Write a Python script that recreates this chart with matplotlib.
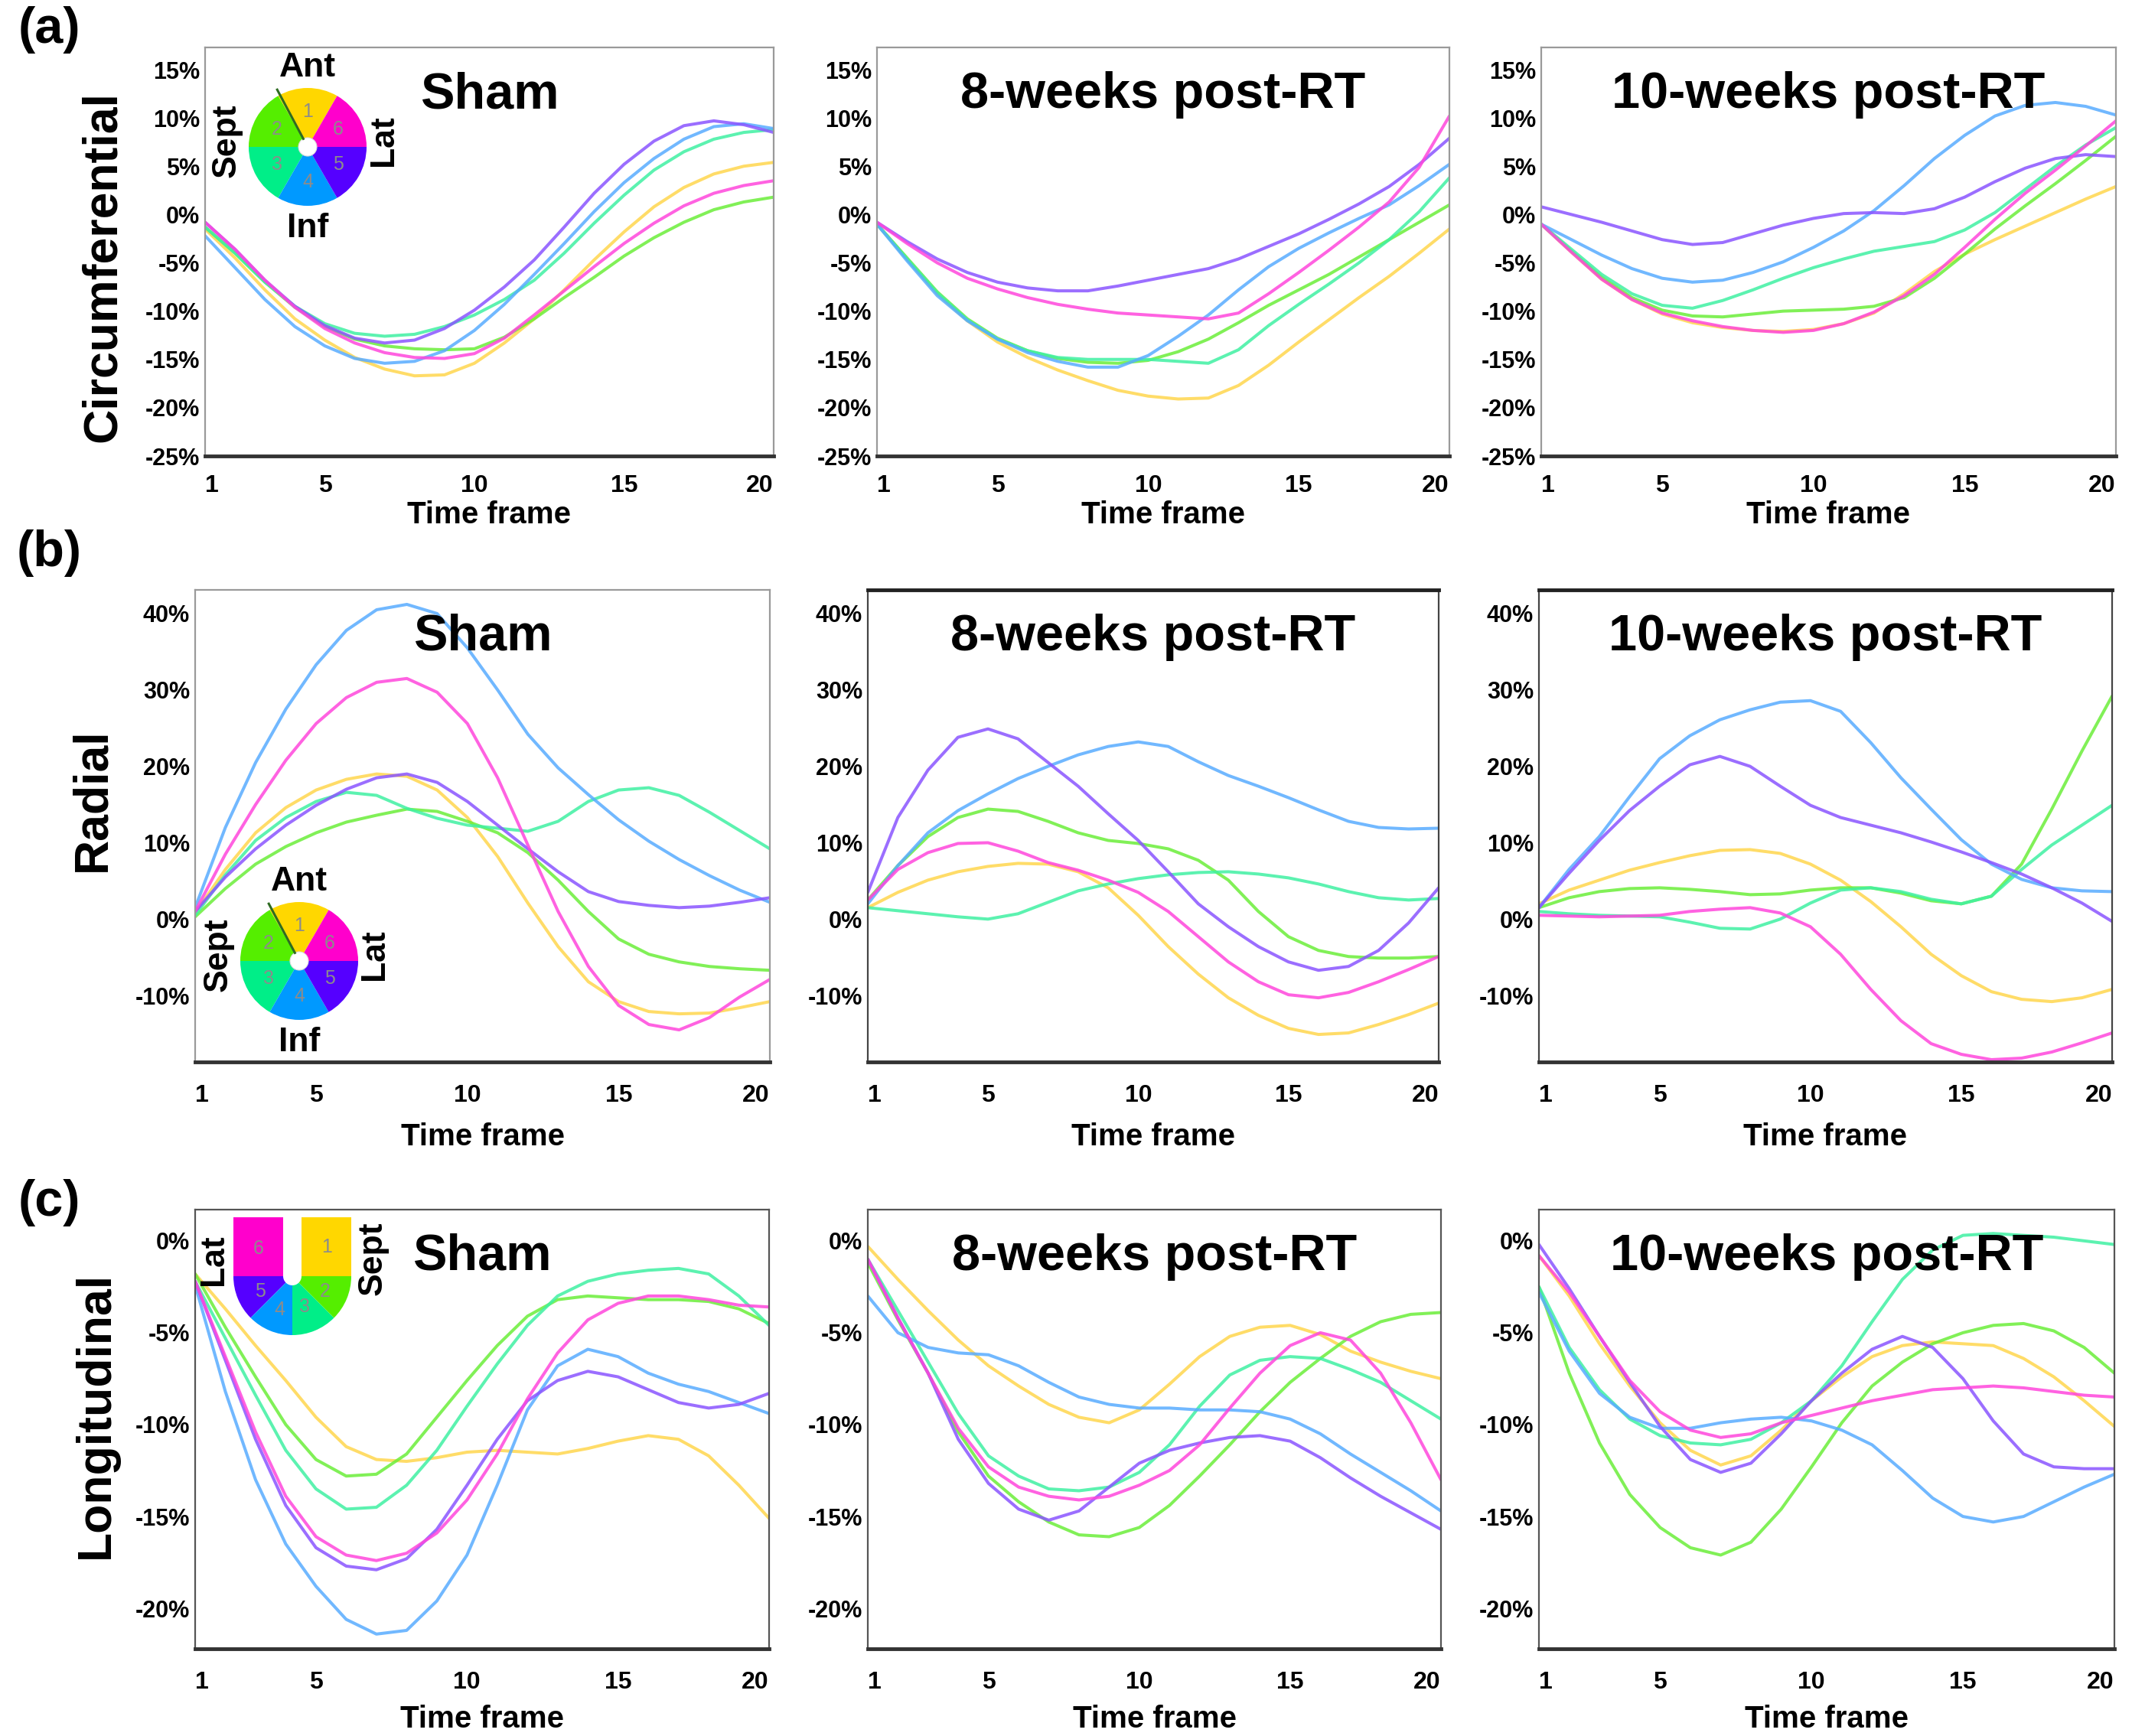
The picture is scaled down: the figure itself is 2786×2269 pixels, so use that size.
import numpy as np
import matplotlib
matplotlib.use("Agg")
import matplotlib.pyplot as plt
from matplotlib.patches import Wedge, Circle, Rectangle

plt.rcParams['font.family'] = ['Liberation Sans', 'DejaVu Sans']

# ---- data (strain %, per LV segment, time frames 1..20) ----
frames = list(range(1, 21))
segments = ['1', '2', '3', '4', '5', '6']
groups = ['Sham', '8-weeks post-RT', '10-weeks post-RT']
strain_names = ['Circumferential', 'Radial', 'Longitudinal']

circ_sham = {
    '1': [-1.5, -4.5, -7.8, -10.8, -13.0, -14.8, -16.0, -16.7, -16.6, -15.4, -13.3, -10.8, -7.8, -4.7, -1.8, 0.8, 2.8, 4.2, 5.0, 5.4],
    '2': [-1.3, -4.0, -7.0, -9.6, -11.6, -12.9, -13.6, -13.9, -14.0, -13.9, -12.7, -10.8, -8.6, -6.5, -4.3, -2.4, -0.8, 0.5, 1.3, 1.8],
    '3': [-1.3, -4.0, -7.0, -9.5, -11.3, -12.3, -12.6, -12.4, -11.6, -10.4, -8.8, -6.8, -4.0, -0.9, 2.0, 4.6, 6.5, 7.8, 8.5, 8.8],
    '4': [-2.2, -5.5, -8.8, -11.6, -13.6, -14.9, -15.4, -15.2, -14.1, -12.0, -9.3, -6.2, -3.0, 0.3, 3.3, 5.8, 7.8, 9.1, 9.4, 8.9],
    '5': [-0.8, -3.6, -6.8, -9.5, -11.5, -12.8, -13.3, -13.0, -11.8, -9.9, -7.5, -4.7, -1.3, 2.2, 5.2, 7.6, 9.2, 9.7, 9.3, 8.5],
    '6': [-0.8, -3.6, -6.8, -9.6, -11.8, -13.3, -14.3, -14.8, -14.9, -14.4, -12.8, -10.4, -7.9, -5.4, -3.0, -0.9, 0.9, 2.2, 3.0, 3.5],
}
circ_8wk = {
    '1': [-1.0, -4.6, -8.2, -11.0, -13.2, -14.8, -16.1, -17.2, -18.2, -18.8, -19.1, -19.0, -17.7, -15.6, -13.2, -10.9, -8.6, -6.4, -4.0, -1.5],
    '2': [-1.0, -4.5, -8.0, -10.8, -12.8, -14.1, -14.9, -15.3, -15.4, -15.1, -14.2, -12.9, -11.2, -9.4, -7.8, -6.2, -4.4, -2.6, -0.8, 1.0],
    '3': [-1.0, -4.6, -8.1, -10.9, -12.9, -14.1, -14.8, -15.0, -15.0, -15.0, -15.2, -15.4, -14.0, -11.5, -9.3, -7.2, -5.0, -2.6, 0.3, 3.8],
    '4': [-1.0, -4.8, -8.4, -11.0, -12.9, -14.3, -15.2, -15.8, -15.8, -14.6, -12.6, -10.4, -7.8, -5.4, -3.5, -1.9, -0.4, 1.0, 3.0, 5.2],
    '5': [-0.8, -2.8, -4.6, -6.0, -7.0, -7.6, -7.9, -7.9, -7.4, -6.8, -6.2, -5.6, -4.6, -3.3, -2.0, -0.5, 1.1, 2.9, 5.2, 7.9],
    '6': [-0.8, -3.0, -5.0, -6.6, -7.7, -8.6, -9.3, -9.8, -10.2, -10.4, -10.6, -10.8, -10.2, -8.2, -6.0, -3.7, -1.3, 1.3, 4.9, 10.2],
}
circ_10wk = {
    '1': [-1.0, -3.9, -6.7, -8.8, -10.3, -11.2, -11.7, -12.0, -12.1, -11.9, -11.3, -10.2, -8.2, -5.9, -4.1, -2.6, -1.2, 0.2, 1.6, 2.9],
    '2': [-1.0, -3.8, -6.5, -8.6, -9.9, -10.5, -10.6, -10.3, -10.0, -9.9, -9.8, -9.5, -8.6, -6.6, -4.1, -1.5, 0.9, 3.2, 5.6, 8.1],
    '3': [-1.0, -3.6, -6.2, -8.2, -9.4, -9.7, -8.9, -7.8, -6.6, -5.5, -4.6, -3.8, -3.3, -2.8, -1.6, 0.2, 2.6, 5.0, 7.2, 9.0],
    '4': [-1.0, -2.6, -4.2, -5.6, -6.6, -7.0, -6.8, -6.0, -4.9, -3.4, -1.7, 0.4, 3.0, 5.8, 8.2, 10.2, 11.3, 11.6, 11.2, 10.3],
    '5': [0.8, 0.0, -0.8, -1.7, -2.6, -3.1, -2.9, -2.0, -1.1, -0.4, 0.1, 0.2, 0.1, 0.6, 1.8, 3.4, 4.8, 5.8, 6.2, 6.0],
    '6': [-1.0, -3.9, -6.7, -8.8, -10.2, -11.0, -11.6, -12.0, -12.2, -12.0, -11.3, -10.1, -8.4, -6.2, -3.4, -0.5, 2.2, 4.6, 7.1, 9.7],
}

rad_sham = {
    '1': [0.8, 6.5, 11.3, 14.6, 16.9, 18.3, 19.0, 18.7, 16.9, 13.3, 8.2, 2.1, -3.6, -8.2, -10.8, -12.1, -12.4, -12.3, -11.6, -10.8],
    '2': [0.3, 4.0, 7.2, 9.5, 11.3, 12.7, 13.6, 14.4, 14.1, 12.8, 11.3, 8.7, 5.1, 1.0, -2.6, -4.6, -5.6, -6.2, -6.5, -6.7],
    '3': [0.5, 5.8, 10.3, 13.3, 15.4, 16.6, 16.2, 14.5, 13.2, 12.3, 11.9, 11.5, 12.8, 15.4, 16.9, 17.2, 16.2, 14.0, 11.6, 9.2],
    '4': [1.5, 12.0, 20.5, 27.5, 33.3, 37.8, 40.5, 41.2, 40.0, 35.5, 30.0, 24.2, 19.8, 16.3, 13.0, 10.2, 7.8, 5.7, 3.8, 2.2],
    '5': [1.0, 5.5, 9.2, 12.3, 14.9, 17.0, 18.5, 19.0, 17.9, 15.4, 12.3, 9.2, 6.2, 3.6, 2.3, 1.8, 1.5, 1.7, 2.2, 2.8],
    '6': [1.0, 8.5, 15.0, 20.8, 25.6, 29.0, 31.0, 31.5, 29.7, 25.6, 18.5, 9.7, 1.0, -6.2, -11.3, -13.8, -14.5, -12.9, -10.2, -7.9],
}
rad_8wk = {
    '1': [1.5, 3.5, 5.1, 6.2, 6.9, 7.3, 7.2, 6.2, 4.1, 0.5, -3.6, -7.2, -10.3, -12.6, -14.3, -15.1, -14.9, -13.8, -12.5, -11.0],
    '2': [2.5, 7.0, 10.8, 13.3, 14.4, 14.1, 12.8, 11.3, 10.3, 9.9, 9.2, 7.7, 5.1, 1.0, -2.3, -4.1, -4.9, -5.1, -5.1, -4.9],
    '3': [1.5, 1.1, 0.7, 0.3, 0.0, 0.7, 2.2, 3.7, 4.6, 5.3, 5.8, 6.1, 6.2, 5.9, 5.4, 4.6, 3.6, 2.8, 2.5, 2.7],
    '4': [2.0, 7.0, 11.3, 14.2, 16.4, 18.4, 20.0, 21.5, 22.6, 23.2, 22.6, 20.6, 18.8, 17.4, 15.9, 14.3, 12.8, 12.0, 11.8, 11.9],
    '5': [3.5, 13.3, 19.5, 23.8, 24.9, 23.6, 20.5, 17.4, 13.8, 10.3, 6.2, 2.0, -1.0, -3.6, -5.6, -6.7, -6.2, -4.1, -0.5, 4.1],
    '6': [2.5, 6.5, 8.7, 9.9, 10.0, 8.9, 7.4, 6.4, 5.1, 3.5, 1.0, -2.3, -5.6, -8.2, -9.9, -10.3, -9.6, -8.2, -6.6, -4.9],
}
rad_10wk = {
    '1': [2.0, 3.8, 5.1, 6.4, 7.4, 8.3, 9.0, 9.1, 8.6, 7.2, 5.1, 2.3, -1.0, -4.6, -7.4, -9.5, -10.5, -10.8, -10.3, -9.2],
    '2': [1.5, 2.8, 3.6, 4.0, 4.1, 3.9, 3.6, 3.2, 3.3, 3.8, 4.1, 4.1, 3.4, 2.4, 2.0, 3.0, 7.2, 14.4, 22.0, 29.2],
    '3': [1.0, 0.7, 0.5, 0.4, 0.3, -0.4, -1.2, -1.3, 0.0, 2.1, 3.8, 4.1, 3.6, 2.6, 2.0, 3.0, 6.5, 9.7, 12.3, 14.9],
    '4': [1.5, 6.5, 10.8, 16.0, 21.0, 24.0, 26.1, 27.4, 28.4, 28.6, 27.2, 23.1, 18.5, 14.4, 10.4, 7.2, 5.2, 4.1, 3.7, 3.6],
    '5': [1.5, 6.0, 10.3, 14.2, 17.4, 20.2, 21.3, 20.0, 17.4, 14.9, 13.3, 12.3, 11.3, 10.1, 8.8, 7.4, 5.9, 4.1, 2.1, -0.3],
    '6': [0.5, 0.4, 0.3, 0.4, 0.5, 1.0, 1.3, 1.5, 0.8, -1.0, -4.6, -9.2, -13.3, -16.3, -17.7, -18.4, -18.2, -17.4, -16.2, -14.9],
}

long_sham = {
    '1': [-1.8, -3.7, -5.7, -7.6, -9.6, -11.2, -11.9, -12.0, -11.8, -11.5, -11.4, -11.5, -11.6, -11.3, -10.9, -10.6, -10.8, -11.7, -13.3, -15.1],
    '2': [-1.8, -4.7, -7.4, -10.0, -11.9, -12.8, -12.7, -11.6, -9.6, -7.6, -5.7, -4.1, -3.2, -3.0, -3.1, -3.2, -3.2, -3.3, -3.7, -4.5],
    '3': [-2.2, -5.3, -8.4, -11.4, -13.5, -14.6, -14.5, -13.3, -11.4, -9.0, -6.7, -4.6, -3.0, -2.2, -1.8, -1.6, -1.5, -1.8, -3.0, -4.6],
    '4': [-2.4, -8.2, -13.0, -16.5, -18.8, -20.6, -21.4, -21.2, -19.6, -17.1, -13.3, -9.2, -6.8, -5.9, -6.3, -7.2, -7.8, -8.2, -8.8, -9.4],
    '5': [-2.2, -6.5, -10.8, -14.4, -16.7, -17.7, -17.9, -17.3, -15.7, -13.3, -10.8, -8.7, -7.6, -7.1, -7.4, -8.1, -8.8, -9.1, -8.9, -8.3],
    '6': [-2.2, -6.3, -10.4, -13.9, -16.1, -17.1, -17.4, -17.0, -15.9, -14.1, -11.6, -8.6, -6.1, -4.3, -3.4, -3.0, -3.0, -3.2, -3.5, -3.6],
}
long_8wk = {
    '1': [-0.3, -2.1, -3.8, -5.4, -6.8, -7.9, -8.9, -9.6, -9.9, -9.2, -7.8, -6.3, -5.2, -4.7, -4.6, -5.1, -6.0, -6.6, -7.1, -7.5],
    '2': [-1.2, -4.3, -7.2, -10.4, -12.8, -14.2, -15.3, -16.0, -16.1, -15.6, -14.4, -12.8, -11.1, -9.3, -7.7, -6.4, -5.2, -4.4, -4.0, -3.9],
    '3': [-1.0, -3.8, -6.6, -9.4, -11.7, -12.8, -13.5, -13.6, -13.4, -12.6, -11.1, -9.0, -7.3, -6.5, -6.3, -6.4, -7.0, -7.7, -8.7, -9.7],
    '4': [-3.0, -5.0, -5.8, -6.1, -6.2, -6.8, -7.7, -8.5, -8.9, -9.1, -9.1, -9.2, -9.2, -9.3, -9.7, -10.5, -11.6, -12.6, -13.6, -14.7],
    '5': [-1.0, -4.2, -7.2, -10.8, -13.2, -14.6, -15.2, -14.7, -13.4, -12.1, -11.4, -11.0, -10.7, -10.6, -10.9, -11.8, -12.9, -13.9, -14.8, -15.7],
    '6': [-1.0, -4.2, -7.2, -10.2, -12.3, -13.4, -13.9, -14.1, -13.9, -13.3, -12.5, -11.1, -9.1, -7.2, -5.7, -5.0, -5.4, -7.2, -9.9, -13.0],
}
long_10wk = {
    '1': [-0.8, -3.0, -5.6, -7.9, -9.9, -11.4, -12.2, -11.7, -10.3, -8.7, -7.4, -6.3, -5.7, -5.5, -5.6, -5.7, -6.4, -7.4, -8.7, -10.1],
    '2': [-2.5, -7.2, -11.0, -13.8, -15.6, -16.7, -17.1, -16.4, -14.6, -12.3, -9.9, -7.9, -6.6, -5.6, -5.0, -4.6, -4.5, -4.9, -5.8, -7.2],
    '3': [-2.5, -5.8, -8.1, -9.7, -10.6, -11.0, -11.1, -10.8, -9.9, -8.7, -6.8, -4.4, -2.1, -0.5, 0.3, 0.4, 0.3, 0.2, 0.0, -0.2],
    '4': [-2.8, -6.0, -8.3, -9.6, -10.2, -10.2, -9.9, -9.7, -9.6, -9.8, -10.3, -11.1, -12.5, -14.0, -15.0, -15.3, -15.0, -14.2, -13.4, -12.7],
    '5': [-0.2, -2.6, -5.2, -7.7, -10.1, -11.9, -12.6, -12.1, -10.5, -8.7, -7.2, -5.9, -5.2, -5.8, -7.5, -9.8, -11.6, -12.3, -12.4, -12.4],
    '6': [-0.8, -2.8, -5.2, -7.6, -9.3, -10.3, -10.7, -10.5, -9.9, -9.5, -9.1, -8.7, -8.4, -8.1, -8.0, -7.9, -8.0, -8.2, -8.4, -8.5],
}

circ_ticks = [-25, -20, -15, -10, -5, 0, 5, 10, 15]
rad_ticks = [-10, 0, 10, 20, 30, 40]
long_ticks = [-20, -15, -10, -5, 0]
x_ticks = [1, 5, 10, 15, 20]

line_colors = {'1': '#ffd64d', '2': '#6bee3a', '3': '#3ff0a2',
               '4': '#58acff', '5': '#8a55ff', '6': '#ff46dc'}
wheel_colors = {'1': '#ffd700', '2': '#55ee00', '3': '#00ee88',
                '4': '#0099ff', '5': '#5500ff', '6': '#ff00cc'}

# ---- layout (pixel boxes of each row of panels) ----
W, H = 2786, 2269
fig = plt.figure(figsize=(W / 100, H / 100), dpi=100)

rows = [
    dict(data=[circ_sham, circ_8wk, circ_10wk], ticks=circ_ticks, ylim=(-25, 17.3),
         xs=[(268, 1011), (1146, 1894), (2014, 2765)], ys=(62, 596),
         xpad=17, ylab=(-0.18, 0.464), xlab=-0.144),
    dict(data=[rad_sham, rad_8wk, rad_10wk], ticks=rad_ticks, ylim=(-18.7, 43.1),
         xs=[(255, 1006), (1134, 1880), (2011, 2760)], ys=(771, 1388),
         xpad=21, ylab=(-0.178, 0.556), xlab=-0.159),
    dict(data=[long_sham, long_8wk, long_10wk], ticks=long_ticks, ylim=(-22.2, 1.7),
         xs=[(255, 1005), (1134, 1883), (2011, 2763)], ys=(1581, 2155),
         xpad=21, ylab=(-0.173, 0.533), xlab=-0.160),
]

for r, row in enumerate(rows):
    y0, y1 = row['ys']
    for c, (x0, x1) in enumerate(row['xs']):
        ax = fig.add_axes([x0 / W, 1 - y1 / H, (x1 - x0) / W, (y1 - y0) / H])
        panel = row['data'][c]
        for seg in segments:
            ax.plot(frames, panel[seg], color=line_colors[seg], lw=2.9, alpha=0.85,
                    solid_joinstyle='round', solid_capstyle='round')
        ax.set_xlim(1, 20)
        ax.set_ylim(*row['ylim'])
        ax.set_xticks(x_ticks)
        xlabels = ax.set_xticklabels([str(t) for t in x_ticks], fontsize=23, fontweight='bold')
        xlabels[0].set_horizontalalignment('left')
        xlabels[-1].set_horizontalalignment('right')
        ax.set_yticks(row['ticks'])
        ax.set_yticklabels([f'{t}%' for t in row['ticks']], fontsize=22, fontweight='bold')
        ax.tick_params(axis='both', length=0)
        ax.tick_params(axis='x', pad=row['xpad'])
        ax.tick_params(axis='y', pad=5)
        for side in ['top', 'left', 'right']:
            ax.spines[side].set_color('#9a9a9a')
            ax.spines[side].set_linewidth(1.6)
        ax.spines['bottom'].set_color('#333333')
        ax.spines['bottom'].set_linewidth(3.5)
        if r == 1 and c > 0:
            ax.spines['top'].set_color('#222222')
            ax.spines['top'].set_linewidth(3.5)
            ax.spines['left'].set_color('#444444')
            ax.spines['right'].set_color('#444444')
        if r == 2:
            for side in ['top', 'left', 'right']:
                ax.spines[side].set_color('#555555')
        ax.text(0.5, 1 - 62 / (y1 - y0), groups[c], transform=ax.transAxes,
                ha='center', va='center', fontsize=48, fontweight='bold')
        ax.set_xlabel('Time frame', fontsize=29, fontweight='bold')
        ax.xaxis.set_label_coords(0.5, row['xlab'])
        ax.xaxis.label.set_verticalalignment('center')
        if c == 0:
            ax.set_ylabel(strain_names[r], fontsize=45, fontweight='bold')
            ax.yaxis.set_label_coords(*row['ylab'])
            ax.yaxis.label.set_verticalalignment('center')

# ---- overlay in pixel coordinates for the segment diagrams and panel letters ----
ov = fig.add_axes([0, 0, 1, 1], zorder=10)
ov.set_xlim(0, W)
ov.set_ylim(H, 0)
ov.axis('off')
ov.patch.set_alpha(0)


def wedge(cx, cy, R, a1, a2, color, width=None):
    # a1, a2 are screen angles (counter-clockwise, y up)
    ov.add_patch(Wedge((cx, cy), R, -a2, -a1, width=width, facecolor=color,
                       edgecolor='none'))


def draw_wheel(cx, cy, R=77, r=12):
    spans = {'1': (60, 120), '2': (120, 180), '3': (180, 240),
             '4': (240, 300), '5': (300, 360), '6': (0, 60)}
    for seg, (a1, a2) in spans.items():
        wedge(cx, cy, R, a1, a2, wheel_colors[seg])
        am = np.deg2rad((a1 + a2) / 2)
        ov.text(cx + 0.6 * R * np.cos(am), cy - 0.6 * R * np.sin(am), seg,
                color='#8c8c8c', fontsize=18, ha='center', va='center')
    ov.add_patch(Circle((cx, cy), r, facecolor='white', edgecolor='#dddddd', lw=0.8))
    a = np.deg2rad(118)
    ov.plot([cx + r * np.cos(a), cx + 1.1 * R * np.cos(a)],
            [cy - r * np.sin(a), cy - 1.1 * R * np.sin(a)], color='#2e6b22', lw=2.2)
    kw = dict(fontsize=32, fontweight='bold', ha='center', va='center')
    ov.text(cx, cy - 104, 'Ant', **kw)
    ov.text(cx, cy + 106, 'Inf', **kw)
    ov.text(cx - 106, cy - 8, 'Sept', rotation=90, **kw)
    ov.text(cx + 99, cy - 8, 'Lat', rotation=90, **kw)


def draw_u(cx, cy, R=77, r=12):
    ov.add_patch(Rectangle((cx - R, cy - R), R - r, R, facecolor=wheel_colors['6'],
                           edgecolor='none'))
    ov.add_patch(Rectangle((cx + r, cy - R), R - r, R, facecolor=wheel_colors['1'],
                           edgecolor='none'))
    spans = {'5': (180, 225), '4': (225, 270), '3': (270, 315), '2': (315, 360)}
    for seg, (a1, a2) in spans.items():
        wedge(cx, cy, R, a1, a2, wheel_colors[seg], width=R - r)
    num_pos = {'6': (-44, -36), '1': (45, -38), '5': (-42, 20),
               '4': (-17, 44), '3': (16, 40), '2': (43, 20)}
    for seg, (dx, dy) in num_pos.items():
        ov.text(cx + dx, cy + dy, seg, color='#8c8c8c', fontsize=18,
                ha='center', va='center')
    kw = dict(fontsize=32, fontweight='bold', ha='center', va='center', rotation=90)
    ov.text(cx - 102, cy - 21, 'Lat', **kw)
    ov.text(cx + 105, cy - 23, 'Sept', **kw)


draw_wheel(402, 192)
draw_wheel(391, 1256)
draw_u(382, 1668)

for label, (px, py) in zip(['(a)', '(b)', '(c)'], [(64, 39), (64, 723), (64, 1572)]):
    ov.text(px, py, label, fontsize=48, fontweight='bold', ha='center', va='center')

fig.savefig('out.png', dpi=100)
